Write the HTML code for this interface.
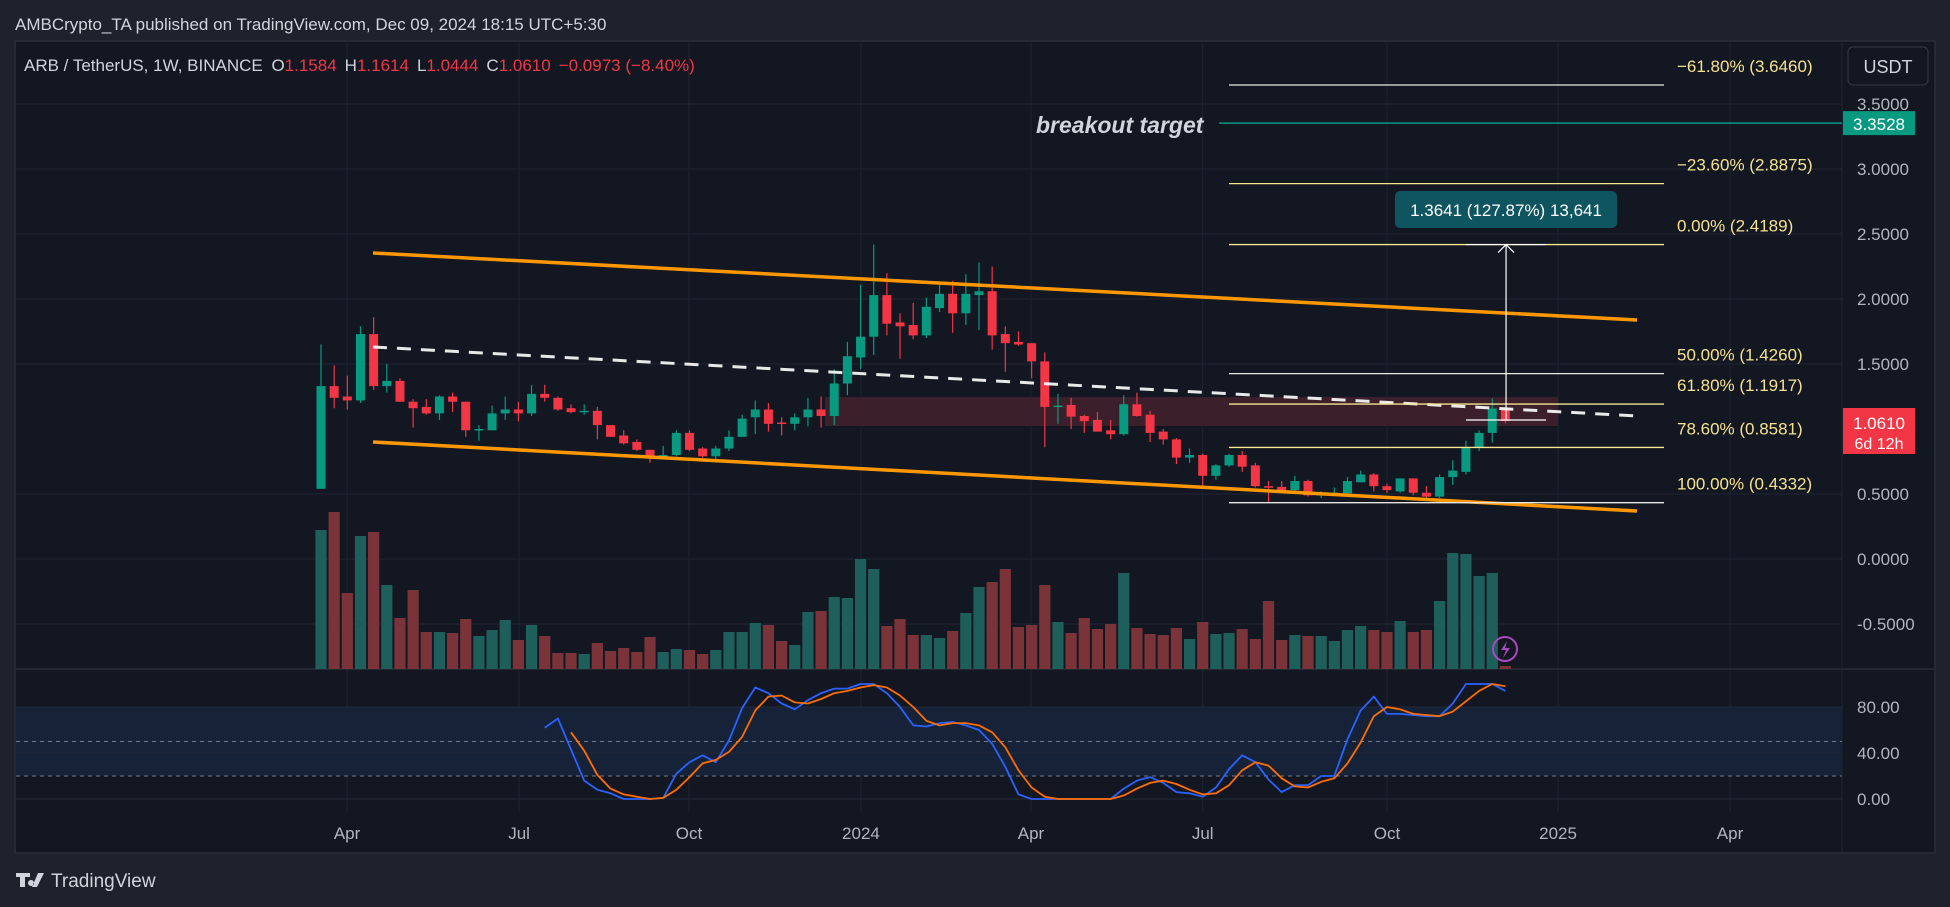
<!DOCTYPE html>
<html><head><meta charset="utf-8">
<style>
html,body{margin:0;padding:0;background:#1e222d;}
body{width:1950px;height:907px;overflow:hidden;font-family:"Liberation Sans",sans-serif;}
svg{display:block}
</style></head>
<body>
<svg id="chart" width="1950" height="907" viewBox="0 0 1950 907" xmlns="http://www.w3.org/2000/svg">
<rect x="0" y="0" width="1950" height="907" fill="#1e222d"/>
<text x="15" y="30" fill="#d1d4dc" font-size="17">AMBCrypto_TA published on TradingView.com, Dec 09, 2024 18:15 UTC+5:30</text>
<rect x="15" y="41" width="1920" height="812" fill="#131722" stroke="#2a2e39" stroke-width="1.5"/>
<g id="grid"></g>
<rect x="825" y="397" width="733" height="29" fill="#3b1f2a" id="zone"/>
<g id="vol"></g>
<g id="candles"></g>
<g id="draw"></g>
<g id="stoch"></g>
<g id="axes"></g>
<text x="24" y="71" font-size="17" fill="#d1d4dc">ARB / TetherUS, 1W, BINANCE <tspan dx="4">O</tspan><tspan fill="#f23645">1.1584</tspan><tspan dx="8">H</tspan><tspan fill="#f23645">1.1614</tspan><tspan dx="8">L</tspan><tspan fill="#f23645">1.0444</tspan><tspan dx="8">C</tspan><tspan fill="#f23645">1.0610</tspan><tspan dx="8" fill="#f23645">−0.0973 (−8.40%)</tspan></text>
<rect x="1848" y="47" width="80" height="38" rx="5" fill="#131722" stroke="#363a45"/>
<text x="1888" y="73" font-size="18" fill="#d1d4dc" text-anchor="middle">USDT</text>
<text x="1036" y="133" font-size="23" font-weight="bold" font-style="italic" fill="#d1d4dc">breakout target</text>
<g>
<path d="M16 873h14v4h-5v10h-5v-10h-4z M31 880a3 3 0 1 0 0.1 0z M38 873h6l-7 14h-5z" fill="#d1d4dc"/>
<text x="51" y="887" font-size="19" fill="#d1d4dc">TradingView</text>
</g>
</svg>
<script>
// ---- data ----
const priceTicks=[3.5,3.0,2.5,2.0,1.5,0.5,0.0,-0.5];
const priceTickLabels=["3.5000","3.0000","2.5000","2.0000","1.5000","0.5000","0.0000","-0.5000"];
const monthTickWeeks=[2.98,16.05,28.96,42.03,54.95,68,82,95,108.07];
const monthTickLabels=["Apr","Jul","Oct","2024","Apr","Jul","Oct","2025","Apr"];
const opens=[0.54,1.33,1.25,1.22,1.73,1.33,1.37,1.21,1.17,1.12,1.25,1.21,0.99,0.99,1.12,1.15,1.12,1.27,1.24,1.16,1.13,1.14,1.03,0.95,0.90,0.84,0.79,0.80,0.97,0.85,0.79,0.85,0.94,1.09,1.15,1.05,1.04,1.09,1.15,1.10,1.35,1.55,1.71,2.03,1.82,1.80,1.72,1.93,2.04,1.89,2.03,2.06,1.73,1.67,1.66,1.52,1.17,1.185,1.10,1.07,0.99,0.96,1.19,1.11,0.98,0.92,0.78,0.80,0.64,0.72,0.80,0.72,0.56,0.555,0.53,0.60,0.49,0.50,0.505,0.59,0.65,0.56,0.52,0.62,0.51,0.48,0.63,0.67,0.86,0.97,1.1584];
const highs=[1.65,1.49,1.41,1.79,1.86,1.50,1.39,1.23,1.23,1.26,1.28,1.21,1.03,1.18,1.25,1.21,1.34,1.34,1.25,1.19,1.19,1.17,1.03,0.99,0.92,0.84,0.87,0.99,0.99,0.86,0.87,0.99,1.11,1.22,1.20,1.09,1.12,1.24,1.25,1.46,1.67,2.11,2.42,2.20,1.89,1.97,2.01,2.11,2.14,2.19,2.28,2.25,1.79,1.75,1.66,1.59,1.27,1.24,1.11,1.13,1.07,1.26,1.28,1.14,1.00,0.93,0.85,0.81,0.73,0.81,0.83,0.74,0.60,0.60,0.64,0.61,0.52,0.55,0.63,0.68,0.66,0.58,0.62,0.62,0.56,0.65,0.76,0.91,0.99,1.236,1.1614];
const lows=[0.54,1.16,1.15,1.20,1.30,1.28,1.21,1.01,1.11,1.07,1.13,0.94,0.91,0.99,1.07,1.06,1.10,1.21,1.14,1.12,1.11,0.92,0.94,0.88,0.83,0.74,0.77,0.79,0.83,0.78,0.77,0.83,0.94,0.96,0.98,0.95,0.99,1.02,1.01,1.03,1.26,1.46,1.57,1.72,1.54,1.69,1.70,1.90,1.74,1.80,1.76,1.61,1.44,1.64,1.39,0.86,1.04,1.00,0.97,0.98,0.92,0.95,1.095,0.90,0.88,0.73,0.74,0.56,0.61,0.71,0.67,0.55,0.43,0.52,0.52,0.48,0.47,0.495,0.50,0.59,0.52,0.51,0.51,0.49,0.47,0.47,0.57,0.65,0.83,0.895,1.0444];
const closes=[1.33,1.24,1.22,1.73,1.33,1.37,1.21,1.16,1.12,1.25,1.21,0.99,1.00,1.12,1.15,1.12,1.27,1.24,1.15,1.13,1.14,1.03,0.94,0.89,0.84,0.79,0.80,0.97,0.84,0.79,0.85,0.94,1.08,1.15,1.04,1.04,1.09,1.15,1.10,1.35,1.56,1.71,2.03,1.81,1.79,1.72,1.94,2.04,1.89,2.04,2.06,1.72,1.66,1.65,1.52,1.17,1.18,1.095,1.06,0.98,0.96,1.19,1.10,0.97,0.92,0.78,0.80,0.64,0.72,0.80,0.71,0.56,0.555,0.53,0.60,0.49,0.50,0.51,0.60,0.65,0.56,0.53,0.62,0.51,0.48,0.63,0.68,0.86,0.97,1.158,1.0610];
const volumes=[139,157,76,133,137,84,51,79,37,37,36,50,33,39,49,29,44,33,16,16,15,26,18,21,17,32,17,20,19,15,19,37,37,46,44,28,24,57,58,72,71,110,100,43,50,34,34,31,38,56,82,87,100,42,44,84,47,36,51,40,45,96,41,35,34,41,30,47,35,36,40,30,68,29,34,33,33,28,39,43,39,37,48,37,39,68,116,115,93,96,3];
const stochK=[null,null,null,null,null,null,null,null,null,null,null,null,null,null,null,null,null,62,70,43,16,8,5,0,0,0,1,22,32,38,32,51,79,97,92,83,78,86,92,96,96,100,100,92,80,64,63,66,67,64,60,48,28,4,0,0,0,0,0,0,0,9,16,19,14,6,5,2,10,26,38,32,17,6,12,12,20,20,52,77,89,74,74,73,72,72,83,100,100,100,94];
const stochD=[null,null,null,null,null,null,null,null,null,null,null,null,null,null,null,null,null,null,null,58,42,21,9,4,2,0,1,8,19,31,34,41,54,77,89,90,84,83,87,92,94,97,99,97,90,80,68,64,66,66,64,58,45,25,10,2,0,0,0,0,0,3,9,14,16,13,8,4,5,12,25,32,29,18,11,10,15,18,31,49,72,80,78,74,73,72,76,85,94,100,98];
const stochTicks=[80,40,0];
const stochBands=[80,50,20];
const fibLevels=[3.6460,2.8875,2.4189,1.4260,1.1917,0.8581,0.4332];
const fibLabels=["−61.80% (3.6460)","−23.60% (2.8875)","0.00% (2.4189)","50.00% (1.4260)","61.80% (1.1917)","78.60% (0.8581)","100.00% (0.4332)"];
const channelUpper=[[4.95,2.354],[101,1.838]];
const channelLower=[[4.95,0.90],[101,0.369]];
const midLine=[[4.95,1.631],[101,1.10]];
const zoneWeeks=[39.3,95];
const zonePrices=[1.246,1.023];
const targetPrice=3.3528;
const lastPrice=1.0610;
const measureFrom=1.069, measureTo=2.4189;

// ---- scales ----
const X0=321, DX=13.16;
function xs(i){return X0+DX*(i-1);}
function ys(p){return 494-(p-0.5)*130;}
function yv(v){return 669-v;}
function yk(v){return 799-v*1.15;}
const NS="http://www.w3.org/2000/svg";
function el(tag,attrs,parent){const e=document.createElementNS(NS,tag);for(const k in attrs)e.setAttribute(k,attrs[k]);parent.appendChild(e);return e;}
const grid=document.getElementById('grid'),axes=document.getElementById('axes');
priceTicks.forEach((p,k)=>{
  const g=el('line',{x1:16,x2:1842,y1:ys(p),y2:ys(p),stroke:'#1f2431','stroke-width':1},grid);
  
  
  const t=el('text',{x:1857,y:ys(p)+6,fill:'#b2b5be','font-size':17},axes);
  t.textContent=priceTickLabels[k];
  
  
});
monthTickWeeks.forEach((w,k)=>{
  const g=el('line',{x1:xs(w),x2:xs(w),y1:42,y2:812,stroke:'#1f2431','stroke-width':1},grid);
  
  
  const t=el('text',{x:xs(w),y:839,fill:'#b2b5be','font-size':17,'text-anchor':'middle'},axes);
  t.textContent=monthTickLabels[k];
  
  
});
let s1=el('line',{x1:16,x2:1934,y1:669,y2:669,stroke:'#2a2e39','stroke-width':1.5},grid);


let s2=el('line',{x1:1842,x2:1842,y1:42,y2:852,stroke:'#1f2431','stroke-width':1},grid);


const zone=document.getElementById('zone');
zone.setAttribute('x',xs(zoneWeeks[0]));zone.setAttribute('width',xs(zoneWeeks[1])-xs(zoneWeeks[0]));
zone.setAttribute('y',ys(zonePrices[0]));zone.setAttribute('height',ys(zonePrices[1])-ys(zonePrices[0]));
const vg=document.getElementById('vol');
volumes.forEach((v,i)=>{
  const up=closes[i]>=opens[i];
  const r=el('rect',{x:xs(i+1)-5.6,y:yv(v),width:11.2,height:v,fill:up?'#1f5f5b':'#7a3338'},vg);
  
  
});
const cg=document.getElementById('candles');
opens.forEach((o,i)=>{
  const c=closes[i],up=c>=o,col=up?'#089981':'#f23645',x=xs(i+1);
  const w=el('line',{x1:x,x2:x,y1:ys(highs[i]),y2:ys(lows[i]),stroke:col,'stroke-width':1.2},cg);
  
  
  const top=ys(Math.max(o,c)),bh=Math.max(1.5,Math.abs(ys(o)-ys(c)));
  const b=el('rect',{x:x-4.5,y:top,width:9,height:bh,fill:col},cg);
  
  
});
const dg=document.getElementById('draw');
function seg(pts,attrs,name){const l=el('line',Object.assign({x1:xs(pts[0][0]),y1:ys(pts[0][1]),x2:xs(pts[1][0]),y2:ys(pts[1][1])},attrs),dg);return l;}
seg(channelUpper,{stroke:'#ff9800','stroke-width':3.5},'channel-upper-line');
seg(channelLower,{stroke:'#ff9800','stroke-width':3.5},'channel-lower-line');
seg(midLine,{stroke:'#ffffff','stroke-width':3,'stroke-dasharray':'14 10','stroke-opacity':0.9},'channel-mid-dashed-line');
fibLevels.forEach((p,k)=>{
  const white=(k===0||k===3||k===6);
  const l=el('line',{x1:1229,x2:1664,y1:ys(p),y2:ys(p),stroke:white?'#e8e8e0':'#f5e58c','stroke-width':1.3},dg);
  
  
  const t=el('text',{x:1677,y:ys(p)-13,fill:'#f5e28e','font-size':17},dg);
  t.textContent=fibLabels[k];
  
  
});
let tl=el('line',{x1:1219,x2:1842,y1:ys(targetPrice),y2:ys(targetPrice),stroke:'#089981','stroke-width':1.5},dg);


const mx=xs(91.05);
let m1=el('line',{x1:mx,x2:mx,y1:ys(measureFrom),y2:ys(measureTo),stroke:'#ffffff','stroke-width':1.2},dg);


let m2=el('path',{d:`M${mx-8} ${ys(measureTo)+8}L${mx} ${ys(measureTo)}L${mx+8} ${ys(measureTo)+8}`,stroke:'#ffffff',fill:'none','stroke-width':1.2},dg);


[measureFrom,measureTo].forEach(p=>{
  const l=el('line',{x1:mx-40,x2:mx+40,y1:ys(p),y2:ys(p),stroke:'#ffffff','stroke-width':1.2},dg);
  
  
});
let mb=el('rect',{x:1395,y:191,width:222,height:37,rx:5,fill:'#0f5560'},dg);


let mt=el('text',{x:1506,y:216,fill:'#ffffff','font-size':17,'text-anchor':'middle'},dg);
mt.textContent='1.3641 (127.87%) 13,641';


let gb=el('rect',{x:1843,y:ys(targetPrice)-12,width:72,height:24,fill:'#089981'},axes);


let gt=el('text',{x:1879,y:ys(targetPrice)+7,fill:'#ffffff','font-size':17,'text-anchor':'middle'},axes);
gt.textContent=targetPrice.toFixed(4);


let rb=el('rect',{x:1843,y:408,width:72,height:46,fill:'#f23645'},axes);


let rt=el('text',{x:1879,y:429,fill:'#ffffff','font-size':17,'text-anchor':'middle'},axes);
rt.textContent=lastPrice.toFixed(4);


let rt2=el('text',{x:1879,y:449,fill:'#ffffff','font-size':16,'text-anchor':'middle'},axes);
rt2.textContent='6d 12h';


let lc=el('circle',{cx:1505,cy:649,r:12,fill:'none',stroke:'#ab47bc','stroke-width':2},dg);


let lp=el('path',{d:'M1507 641l-6 9h5l-3 8l7-10h-5z',fill:'#ab47bc'},dg);


const sg=document.getElementById('stoch');
let band=el('rect',{x:16,y:yk(80),width:1826,height:yk(20)-yk(80),fill:'#152238'},sg);


stochBands.forEach(v=>{
  const l=el('line',{x1:16,x2:1842,y1:yk(v),y2:yk(v),stroke:'#787b86','stroke-width':1,'stroke-dasharray':'4 4'},sg);
  
  
});
stochTicks.forEach(v=>{
  const l=el('line',{x1:16,x2:1842,y1:yk(v),y2:yk(v),stroke:'#232838','stroke-width':1},sg);
  
  
  const t=el('text',{x:1857,y:yk(v)+6,fill:'#b2b5be','font-size':17},sg);
  t.textContent=v.toFixed(2);
  
  
});
function poly(arr,col,name){
  let d='';arr.forEach((v,i)=>{if(v===null)return;d+=(d?'L':'M')+xs(i+1).toFixed(1)+' '+yk(v).toFixed(1);});
  const p=el('path',{d:d,stroke:col,fill:'none','stroke-width':1.8,'stroke-linejoin':'round'},sg);
  
  
}
poly(stochK,'#2962ff','stoch-k-line');
poly(stochD,'#ff6d00','stoch-d-line');
</script>
</body></html>
